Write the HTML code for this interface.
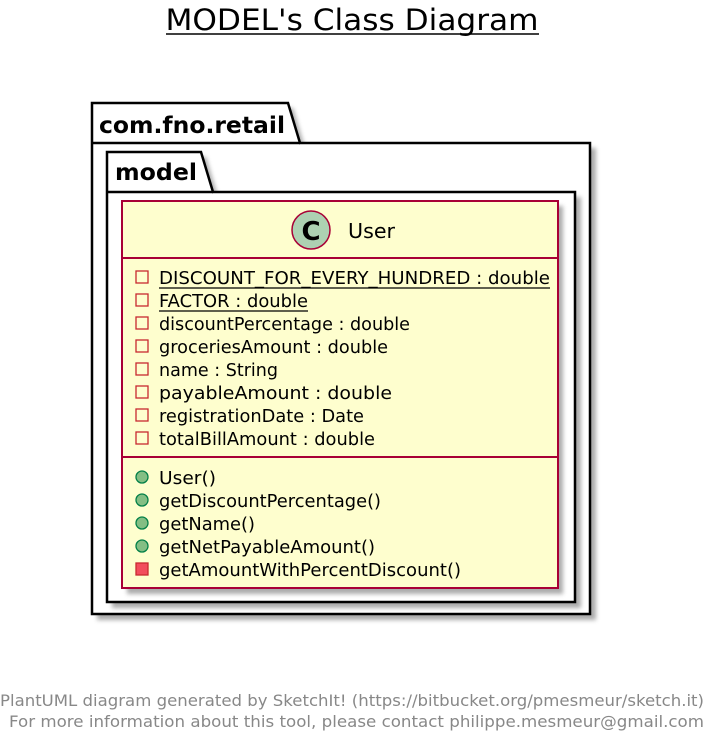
<!DOCTYPE html>
<html><head><meta charset="utf-8"><style>body{margin:0;background:#fff}svg{display:block}</style></head><body>
<svg width="723" height="749" viewBox="0 0 723 749" xmlns="http://www.w3.org/2000/svg" font-family="'DejaVu Sans','Liberation Sans',sans-serif">
<defs><filter id="sh" x="-5%" y="-5%" width="115%" height="115%"><feGaussianBlur stdDeviation="2"/></filter></defs>
<text x="352" y="30" font-size="29" text-anchor="middle" textLength="373" lengthAdjust="spacingAndGlyphs">MODEL's Class Diagram</text>
<line x1="166" y1="34" x2="539" y2="34" stroke="#000" stroke-width="1.5"/>
<g fill="#888" opacity="0.7" filter="url(#sh)">
<path d="M97,108 H293 L305,148 H596 V620 H97 Z"/>
</g>
<path d="M92,103 H288 L300,143 H590 V614 H92 Z" fill="#fff" stroke="#000" stroke-width="2.5"/>
<line x1="92" y1="143" x2="300" y2="143" stroke="#000" stroke-width="2.5"/>
<text x="99" y="133" font-size="23" font-weight="bold" textLength="186" lengthAdjust="spacingAndGlyphs">com.fno.retail</text>
<g fill="#888" opacity="0.7" filter="url(#sh)">
<path d="M112,157 H206 L218,197 H581 V608 H112 Z"/>
</g>
<path d="M107,152 H201 L213,192 H575 V602 H107 Z" fill="#fff" stroke="#000" stroke-width="2.5"/>
<line x1="107" y1="192" x2="213" y2="192" stroke="#000" stroke-width="2.5"/>
<text x="115" y="180" font-size="23" font-weight="bold" textLength="82" lengthAdjust="spacingAndGlyphs">model</text>
<rect x="127" y="206" width="436" height="388" fill="#888" opacity="0.7" filter="url(#sh)"/>
<rect x="122" y="201" width="436" height="387" fill="#FEFECE" stroke="#A80036" stroke-width="2"/>
<line x1="122" y1="258" x2="558" y2="258" stroke="#A80036" stroke-width="2"/>
<line x1="122" y1="457" x2="558" y2="457" stroke="#A80036" stroke-width="2"/>
<circle cx="311" cy="230" r="19" fill="#ADD1B2" stroke="#A80036" stroke-width="1.5"/>
<text x="311" y="240" font-size="26" font-weight="bold" text-anchor="middle">C</text>
<text x="348" y="238" font-size="20" textLength="47" lengthAdjust="spacingAndGlyphs">User</text>
<g font-size="18" lengthAdjust="spacingAndGlyphs">
<g fill="none" stroke="#C82930" stroke-width="1.3">
<rect x="136" y="271" width="12" height="12"/><rect x="136" y="294" width="12" height="12"/><rect x="136" y="317" width="12" height="12"/><rect x="136" y="340" width="12" height="12"/><rect x="136" y="363" width="12" height="12"/><rect x="136" y="386" width="12" height="12"/><rect x="136" y="409" width="12" height="12"/><rect x="136" y="432" width="12" height="12"/>
</g>
<text x="159" y="284" textLength="391" lengthAdjust="spacingAndGlyphs">DISCOUNT_FOR_EVERY_HUNDRED : double</text>
<line x1="159" y1="288" x2="550" y2="288" stroke="#000" stroke-width="1.3"/>
<text x="159" y="307" textLength="149" lengthAdjust="spacingAndGlyphs">FACTOR : double</text>
<line x1="159" y1="311" x2="308" y2="311" stroke="#000" stroke-width="1.3"/>
<text x="159" y="330" textLength="251" lengthAdjust="spacingAndGlyphs">discountPercentage : double</text>
<text x="159" y="353" textLength="229" lengthAdjust="spacingAndGlyphs">groceriesAmount : double</text>
<text x="159" y="376" textLength="119" lengthAdjust="spacingAndGlyphs">name : String</text>
<text x="159" y="399" textLength="233" lengthAdjust="spacingAndGlyphs">payableAmount : double</text>
<text x="159" y="422" textLength="205" lengthAdjust="spacingAndGlyphs">registrationDate : Date</text>
<text x="159" y="445" textLength="216" lengthAdjust="spacingAndGlyphs">totalBillAmount : double</text>
<g fill="#84BE84" stroke="#038048" stroke-width="1.3">
<circle cx="142" cy="477" r="6"/><circle cx="142" cy="500" r="6"/><circle cx="142" cy="523" r="6"/><circle cx="142" cy="546" r="6"/>
</g>
<rect x="136" y="563" width="12" height="12" fill="#F24D5C" stroke="#C82930" stroke-width="1.3"/>
<text x="159" y="484" textLength="57" lengthAdjust="spacingAndGlyphs">User()</text>
<text x="159" y="507" textLength="222" lengthAdjust="spacingAndGlyphs">getDiscountPercentage()</text>
<text x="159" y="530" textLength="96" lengthAdjust="spacingAndGlyphs">getName()</text>
<text x="159" y="553" textLength="216" lengthAdjust="spacingAndGlyphs">getNetPayableAmount()</text>
<text x="159" y="576" textLength="302" lengthAdjust="spacingAndGlyphs">getAmountWithPercentDiscount()</text>
</g>
<g font-size="16" fill="#888" text-anchor="end">
<text x="704" y="706" textLength="704" lengthAdjust="spacingAndGlyphs">PlantUML diagram generated by SketchIt! (https://bitbucket.org/pmesmeur/sketch.it)</text>
<text x="704" y="727" textLength="695" lengthAdjust="spacingAndGlyphs">For more information about this tool, please contact philippe.mesmeur@gmail.com</text>
</g>
</svg>
</body></html>
